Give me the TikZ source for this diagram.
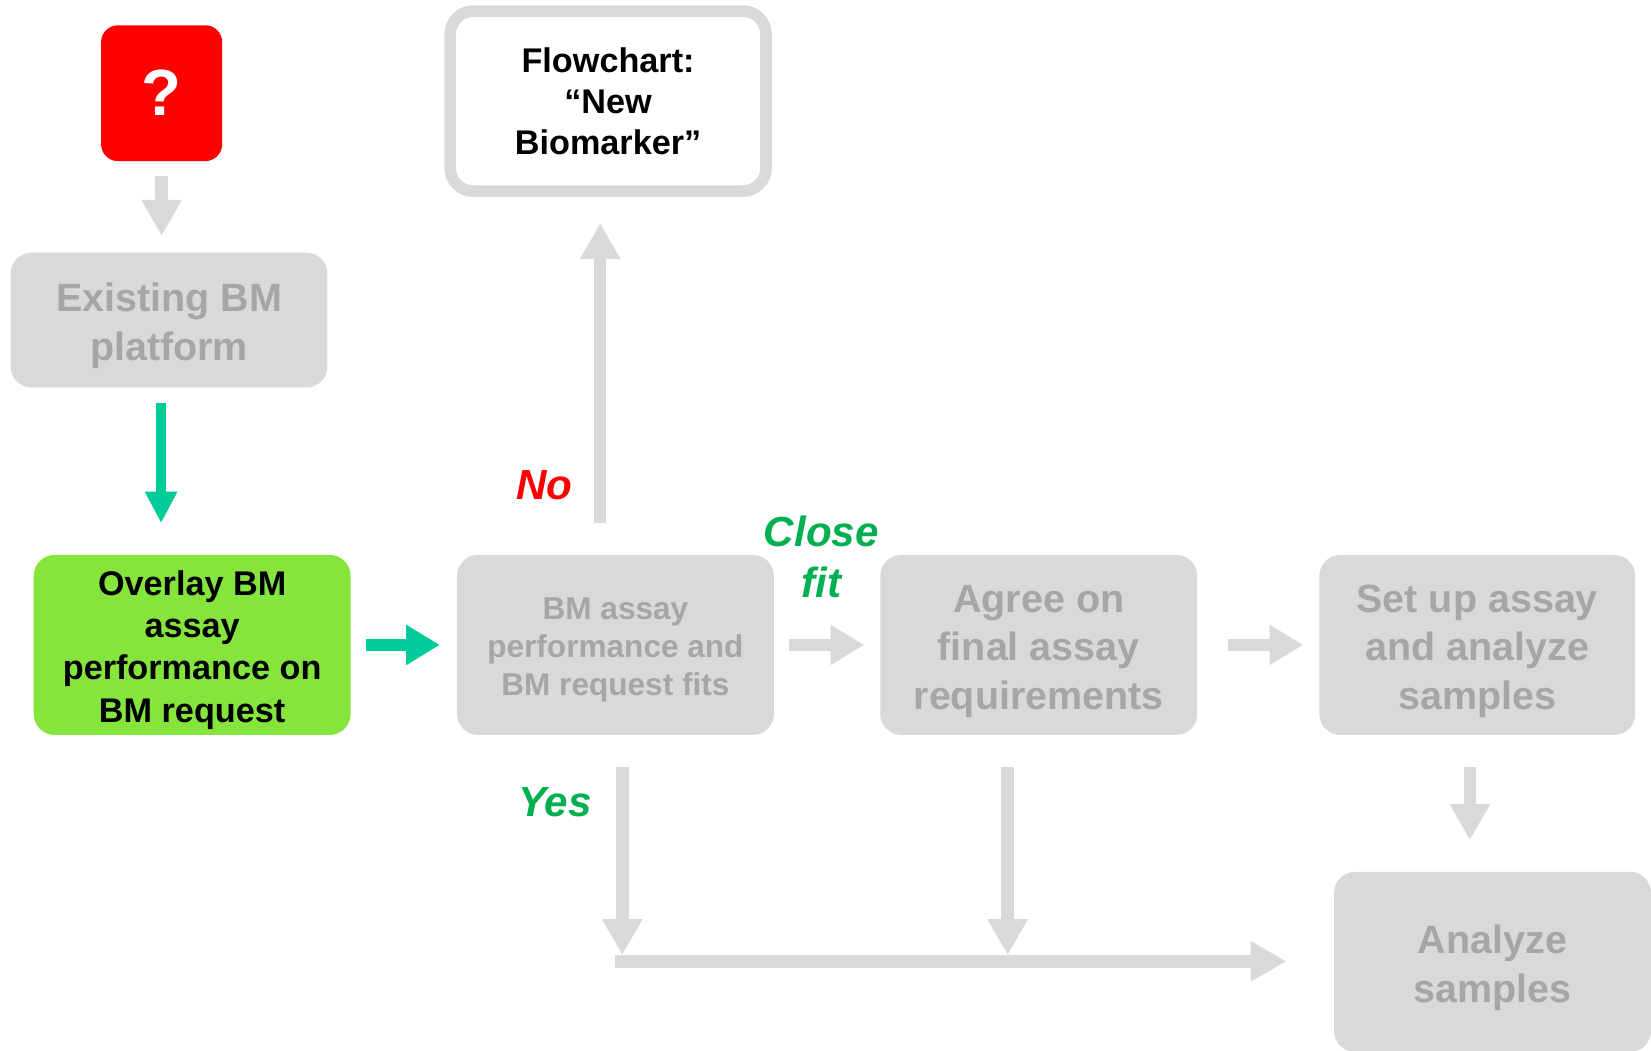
\documentclass[tikz,border=0pt]{standalone}
\usepackage{fontspec}
\setmainfont{Liberation Sans}
\usetikzlibrary{arrows.meta,calc}
\definecolor{boxgray}{RGB}{217,217,217}
\definecolor{textgray}{RGB}{166,166,166}
\definecolor{leaf}{RGB}{133,229,60}
\definecolor{mint}{RGB}{0,204,153}
\definecolor{okgreen}{RGB}{0,176,80}
\definecolor{alarm}{RGB}{255,0,0}
% invisible prop that gives the first line a full ascent
\newcommand\firstline{\rule{0pt}{1.02em}}
\begin{document}
\begin{tikzpicture}[x=1pt,y=-1pt,
  box/.style={rectangle,rounded corners=20pt,fill=boxgray,minimum width=301pt,
    minimum height=171pt,inner sep=0pt,align=center,text=textgray,
    font=\fontsize{37.5}{46}\selectfont\bfseries},
  smallbox/.style={box,font=\fontsize{30}{36}\selectfont\bfseries},
  greenbox/.style={box,fill=leaf,text=black,font=\fontsize{32.5}{40}\selectfont\bfseries},
  outlinebox/.style={rectangle,rounded corners=22pt,draw=boxgray,line width=11pt,fill=white,
    minimum width=300pt,minimum height=171pt,inner sep=0pt,align=center,text=black,
    font=\fontsize{32.5}{39}\selectfont\bfseries},
  verdict/.style={font=\fontsize{40}{48}\selectfont\bfseries\itshape,align=center,inner sep=0pt},
  grayarrow/.style={draw=boxgray,line width=12pt,-{Triangle[width=36pt,length=34pt]}},
  grayhoriz/.style={draw=boxgray,line width=12pt,-{Triangle[width=36pt,length=32pt]}},
  mintarrow/.style={draw=mint,line width=10pt,-{Triangle[width=29pt,length=30pt]}},
  minthoriz/.style={draw=mint,line width=12pt,-{Triangle[width=36pt,length=32pt]}}
]
\clip (0,0) rectangle (1568,998);
\fill[white] (0,0) rectangle (1568,998);

% boxes
\node[rectangle,fill=alarm,text=white,rounded corners=16pt,minimum width=115pt,
  minimum height=129pt,inner sep=0pt,font=\fontsize{62}{70}\selectfont\bfseries]
  (q) at (153.5,88.5) {?};
\node[box,minimum height=128pt] (exist) at (160.5,304) {\firstline Existing BM\\platform};
\node[greenbox] (overlay) at (182.5,612.5)
  {\firstline Overlay BM\\assay\\performance on\\BM request};
\node[smallbox] (fits) at (584.5,612.5)
  {\firstline BM assay\\performance and\\BM request fits};
\node[box] (agree) at (986.5,612.5) {\firstline Agree on\\final assay\\requirements};
\node[box,minimum width=300pt] (setup) at (1403,612.5)
  {\firstline Set up assay\\and analyze\\samples};
\node[box] (analyze) at (1417.5,913.5) {\firstline Analyze\\samples};
\node[outlinebox] (flow) at (577.5,96) {Flowchart:\\“New\\Biomarker”};

% decision labels
\node[verdict,text=alarm] (no) at (517,461) {No};
\node[verdict,text=okgreen] (close) at (780,529) {Close\\fit};
\node[verdict,text=okgreen] (yes) at (527,762) {Yes};

% connectors
\draw[grayarrow,shorten <=14pt,shorten >=16pt] (q.south) -- (q.south |- exist.north);
\draw[mintarrow,shorten <=15pt,shorten >=30pt]
  ([xshift=-7.5pt]exist.south) -- ([xshift=-7.5pt]exist.south |- overlay.north);
\draw[minthoriz,shorten <=14pt,shorten >=16pt] (overlay.east) -- (fits.west);
\draw[grayhoriz,shorten <=14pt,shorten >=15pt] (fits.east) -- (agree.west);
\draw[grayhoriz,shorten <=29pt,shorten >=15pt] (agree.east) -- (setup.west);
\draw[grayarrow,shorten <=30pt,shorten >=25pt]
  ([xshift=-14.5pt]fits.north) -- ([xshift=-14.5pt]fits.north |- flow.south);
\draw[grayarrow,shorten <=30pt,shorten >=30pt]
  ([xshift=-7pt]setup.south) -- ([xshift=-7pt]setup.south |- analyze.north);

% collecting line towards the analysis
\coordinate (bus) at (584,913);
\draw[grayarrow,shorten >=45pt] (bus) -- (bus -| analyze.west);
\draw[grayarrow,shorten <=30pt,shorten >=6pt]
  ([xshift=6.5pt]fits.south) -- ([xshift=6.5pt]fits.south |- bus);
\draw[grayarrow,shorten <=30pt,shorten >=6pt]
  ([xshift=-29.5pt]agree.south) -- ([xshift=-29.5pt]agree.south |- bus);
\end{tikzpicture}
\end{document}
